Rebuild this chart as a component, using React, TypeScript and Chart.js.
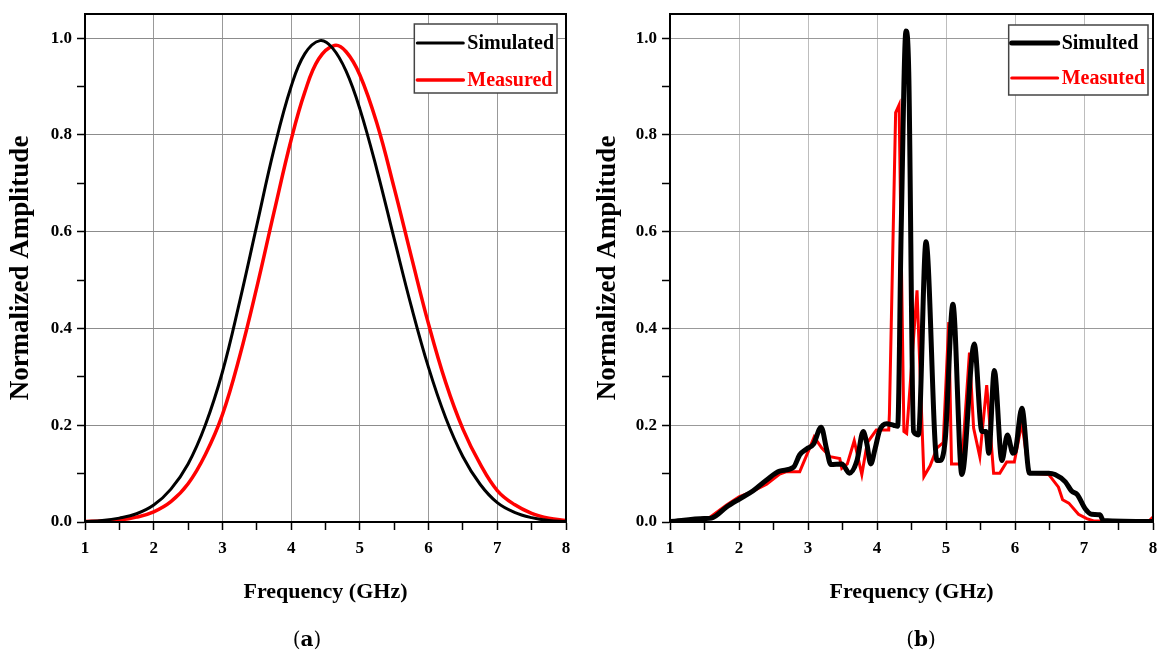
import React, { useEffect, useRef } from 'react';
import { Chart, registerables } from 'chart.js';

Chart.register(...registerables);

const FONT = '"Liberation Serif", "Times New Roman", serif';

// ---------- Panel (a) data ----------
const simAFreq = [1, 1.25, 1.5, 1.75, 2, 2.25, 2.5, 2.75, 3, 3.25, 3.5, 3.75, 4, 4.2, 4.42, 4.6, 4.8, 5, 5.25, 5.5, 5.75, 6, 6.25, 6.5, 6.75, 7, 7.25, 7.5, 7.75, 8];
const simAAmp = [0.001, 0.003, 0.008, 0.017, 0.035, 0.068, 0.12, 0.2, 0.31, 0.455, 0.613, 0.77, 0.9, 0.968, 0.995, 0.98, 0.932, 0.854, 0.727, 0.585, 0.445, 0.319, 0.215, 0.135, 0.078, 0.04, 0.02, 0.009, 0.003, 0.001];
const measAFreq = [1, 1.25, 1.5, 1.75, 2, 2.25, 2.5, 2.75, 3, 3.25, 3.5, 3.75, 4, 4.2, 4.4, 4.63, 4.8, 5, 5.25, 5.5, 5.75, 6, 6.25, 6.5, 6.75, 7, 7.25, 7.5, 7.75, 8];
const measAAmp = [0.001, 0.002, 0.004, 0.01, 0.021, 0.042, 0.079, 0.139, 0.222, 0.342, 0.485, 0.64, 0.79, 0.889, 0.957, 0.985, 0.972, 0.924, 0.823, 0.69, 0.548, 0.409, 0.288, 0.192, 0.12, 0.065, 0.036, 0.018, 0.008, 0.003];

// ---------- Panel (b) data ----------
const simBFreq = [1.0, 1.5, 1.6, 1.82, 2.0, 2.2, 2.4, 2.59, 2.79, 2.88, 2.98, 3.08, 3.19, 3.27, 3.33, 3.49, 3.6, 3.71, 3.8, 3.85, 3.91, 3.97, 4.04, 4.14, 4.24, 4.3, 4.35, 4.42, 4.46, 4.53, 4.6, 4.71, 4.87, 4.91, 4.99, 5.1, 5.23, 5.41, 5.52, 5.58, 5.62, 5.7, 5.81, 5.89, 5.97, 6.0, 6.1, 6.21, 6.49, 6.58, 6.73, 6.82, 6.9, 7.02, 7.11, 7.23, 7.28, 8.0];
const simBAmp = [0.001, 0.007, 0.008, 0.031, 0.047, 0.064, 0.087, 0.105, 0.113, 0.139, 0.151, 0.161, 0.196, 0.15, 0.119, 0.12, 0.101, 0.127, 0.187, 0.164, 0.12, 0.15, 0.19, 0.203, 0.2, 0.198, 0.6, 1.015, 0.93, 0.187, 0.18, 0.579, 0.127, 0.127, 0.172, 0.45, 0.098, 0.368, 0.187, 0.187, 0.142, 0.313, 0.127, 0.18, 0.142, 0.145, 0.235, 0.101, 0.101, 0.098, 0.083, 0.064, 0.057, 0.027, 0.016, 0.015, 0.003, 0.001];
const measBFreq = [1.0, 1.34, 1.58, 1.82, 2.0, 2.18, 2.4, 2.59, 2.69, 2.88, 3.01, 3.09, 3.2, 3.32, 3.46, 3.49, 3.57, 3.67, 3.78, 3.86, 3.99, 4.17, 4.18, 4.27, 4.32, 4.39, 4.43, 4.58, 4.68, 4.77, 4.87, 4.96, 5.04, 5.08, 5.23, 5.34, 5.4, 5.49, 5.59, 5.69, 5.78, 5.88, 5.99, 6.1, 6.2, 6.49, 6.63, 6.69, 6.78, 6.92, 7.04, 7.14, 7.94, 8.0];
const measBAmp = [0.0, 0.005, 0.01, 0.035, 0.052, 0.062, 0.078, 0.099, 0.104, 0.104, 0.148, 0.176, 0.153, 0.135, 0.131, 0.111, 0.12, 0.168, 0.098, 0.164, 0.19, 0.19, 0.224, 0.846, 0.862, 0.187, 0.183, 0.479, 0.094, 0.116, 0.153, 0.164, 0.413, 0.12, 0.12, 0.35, 0.194, 0.135, 0.283, 0.101, 0.101, 0.124, 0.124, 0.205, 0.101, 0.098, 0.072, 0.046, 0.039, 0.016, 0.007, 0.002, 0.002, 0.01];

// ---------- Axes / labels ----------
const xMajorTicks = [1, 2, 3, 4, 5, 6, 7, 8];
const xTickLabels = ['1', '2', '3', '4', '5', '6', '7', '8'];
const xMinorTicks = [1.5, 2.5, 3.5, 4.5, 5.5, 6.5, 7.5];
const yMajorTicks = [0, 0.2, 0.4, 0.6, 0.8, 1.0];
const yTickLabels = ['0.0', '0.2', '0.4', '0.6', '0.8', '1.0'];
const yMinorTicks = [0.1, 0.3, 0.5, 0.7, 0.9];
const seriesNamesA = ['Simulated', 'Measured'];
const seriesNamesB = ['Simulted', 'Measuted'];
const xTitle = 'Frequency (GHz)';
const yTitle = 'Normalized Amplitude';
const panelLabels = ['a', 'b'];

const findIdx = (arr: number[], v: number) => arr.findIndex((m) => Math.abs(m - v) < 1e-6);

const frameLegendPlugin = {
  id: 'frameLegend',
  afterDraw(chart: any, _args: any, opts: any) {
    const { ctx, chartArea: ca } = chart;
    ctx.save();
    ctx.strokeStyle = '#000';
    ctx.lineWidth = 2;
    ctx.strokeRect(ca.left, ca.top, ca.right - ca.left, ca.bottom - ca.top);

    ctx.font = `bold 20px ${FONT}`;
    const ds = chart.data.datasets;
    const tw = Math.max(...ds.map((d: any) => ctx.measureText(d.label).width));
    const lineLen = opts.lineLen;
    const pad = 3;
    const gap = 4;
    const w = pad + lineLen + gap + tw + pad;
    const h = opts.boxHeight;
    const x0 = ca.right - opts.rightGap - w;
    const y0 = ca.top + opts.topGap;
    ctx.fillStyle = '#fff';
    ctx.fillRect(x0, y0, w, h);
    ctx.strokeStyle = '#444';
    ctx.lineWidth = 1.5;
    ctx.strokeRect(x0, y0, w, h);
    ds.forEach((d: any, i: number) => {
      const cy = y0 + opts.rowY[i];
      ctx.strokeStyle = d.borderColor;
      ctx.lineWidth = d.borderWidth;
      ctx.lineCap = 'round';
      ctx.beginPath();
      ctx.moveTo(x0 + pad, cy);
      ctx.lineTo(x0 + pad + lineLen, cy);
      ctx.stroke();
      ctx.fillStyle = d.borderColor;
      ctx.textBaseline = 'middle';
      ctx.textAlign = 'left';
      ctx.fillText(d.label, x0 + pad + lineLen + gap, cy + 1);
    });
    ctx.restore();
  },
};

function makeConfig(p: {
  datasets: any[];
  yWidth: number;
  rightPad: number;
  yTitlePad: number;
  gridH: string;
  gridV: string;
  legend: any;
}) {
  const tickFont = { family: FONT, size: 17, weight: 'bold' as const };
  return {
    type: 'line' as const,
    data: { datasets: p.datasets },
    plugins: [frameLegendPlugin],
    options: {
      animation: false as const,
      responsive: false,
      maintainAspectRatio: false,
      layout: { padding: { left: 0, top: 14, right: p.rightPad, bottom: 0 } },
      elements: { point: { radius: 0 } },
      plugins: {
        legend: { display: false },
        tooltip: { enabled: false },
        frameLegend: p.legend,
      },
      scales: {
        x: {
          type: 'linear' as const,
          min: 1,
          max: 8,
          afterBuildTicks: (s: any) => {
            s.ticks = [...xMajorTicks, ...xMinorTicks].sort((a, b) => a - b).map((v) => ({ value: v }));
          },
          afterFit: (s: any) => {
            s.height = 128;
            s.paddingLeft = 0;
            s.paddingRight = 0;
          },
          grid: {
            color: (c: any) => (c.tick && findIdx(xMajorTicks, c.tick.value) >= 0 ? p.gridV : 'rgba(0,0,0,0)'),
            tickColor: '#000',
            tickLength: 8,
            tickWidth: 1.5,
            lineWidth: 1,
          },
          border: { color: '#000', width: 2 },
          ticks: {
            autoSkip: false,
            maxRotation: 0,
            padding: 8,
            color: '#000',
            font: tickFont,
            callback: (v: any) => {
              const i = findIdx(xMajorTicks, Number(v));
              return i >= 0 ? xTickLabels[i] : '';
            },
          },
          title: {
            display: true,
            text: xTitle,
            color: '#000',
            font: { family: FONT, size: 22, weight: 'bold' as const },
            padding: { top: 0, bottom: 44 },
          },
        },
        y: {
          type: 'linear' as const,
          min: 0,
          max: 1.05,
          afterBuildTicks: (s: any) => {
            s.ticks = [...yMajorTicks, ...yMinorTicks].sort((a, b) => a - b).map((v) => ({ value: v }));
          },
          afterFit: (s: any) => {
            s.width = p.yWidth;
            s.paddingTop = 0;
            s.paddingBottom = 0;
          },
          grid: {
            color: (c: any) => (c.tick && findIdx(yMajorTicks, c.tick.value) >= 0 ? p.gridH : 'rgba(0,0,0,0)'),
            tickColor: '#000',
            tickLength: 8,
            tickWidth: 1.5,
            lineWidth: 1,
          },
          border: { color: '#000', width: 2 },
          ticks: {
            padding: 5,
            color: '#000',
            font: tickFont,
            callback: (v: any) => {
              const i = findIdx(yMajorTicks, Number(v));
              return i >= 0 ? yTickLabels[i] : '';
            },
          },
          title: {
            display: true,
            text: yTitle,
            color: '#000',
            font: { family: FONT, size: 27, weight: 'bold' as const },
            padding: { top: p.yTitlePad, bottom: 0 },
          },
        },
      },
    },
  };
}

const toPts = (xs: number[], ys: number[]) => xs.map((x, i) => ({ x, y: ys[i] }));

function ChartCanvas({ width, height, config }: { width: number; height: number; config: any }) {
  const ref = useRef<HTMLCanvasElement | null>(null);
  useEffect(() => {
    if (!ref.current) return;
    const chart = new Chart(ref.current, config);
    return () => chart.destroy();
  }, []);
  return <canvas ref={ref} width={width} height={height} style={{ display: 'block', width, height }} />;
}

export default function App() {
  const configA = makeConfig({
    datasets: [
      {
        label: seriesNamesA[0],
        data: toPts(simAFreq, simAAmp),
        borderColor: '#000000',
        borderWidth: 3,
        tension: 0.4,
        pointRadius: 0,
      },
      {
        label: seriesNamesA[1],
        data: toPts(measAFreq, measAAmp),
        borderColor: '#ff0000',
        borderWidth: 3.5,
        tension: 0.4,
        pointRadius: 0,
      },
    ],
    yWidth: 85,
    rightPad: 14,
    yTitlePad: 5,
    gridH: '#8c8c8c',
    gridV: '#999999',
    legend: { lineLen: 46, boxHeight: 69, rightGap: 9, topGap: 10, rowY: [19, 56] },
  });
  const configB = makeConfig({
    datasets: [
      {
        label: seriesNamesB[0],
        data: toPts(simBFreq, simBAmp),
        borderColor: '#000000',
        borderWidth: 5,
        cubicInterpolationMode: 'monotone',
        pointRadius: 0,
        borderJoinStyle: 'round',
      },
      {
        label: seriesNamesB[1],
        data: toPts(measBFreq, measBAmp),
        borderColor: '#ff0000',
        borderWidth: 3,
        tension: 0,
        pointRadius: 0,
      },
    ],
    yWidth: 90,
    rightPad: 4,
    yTitlePad: 12,
    gridH: '#999999',
    gridV: '#bdbdbd',
    legend: { lineLen: 46, boxHeight: 70, rightGap: 5, topGap: 11, rowY: [18, 53] },
  });

  const labelStyle = (cx: number): React.CSSProperties => ({
    position: 'absolute',
    left: cx - 40,
    width: 80,
    top: 626,
    textAlign: 'center',
    fontFamily: '"DejaVu Serif", serif',
    fontSize: 20,
    lineHeight: '26px',
    color: '#000',
  });

  return (
    <div style={{ position: 'absolute', left: 0, top: 0, width: 1157, height: 650, background: '#fff', overflow: 'hidden' }}>
      <div style={{ position: 'absolute', left: 0, top: 0 }}>
        <ChartCanvas width={580} height={650} config={configA} />
      </div>
      <div style={{ position: 'absolute', left: 580, top: 0 }}>
        <ChartCanvas width={577} height={650} config={configB} />
      </div>
      <div style={labelStyle(307)}>
        (<b>{panelLabels[0]}</b>)
      </div>
      <div style={labelStyle(921)}>
        (<b>{panelLabels[1]}</b>)
      </div>
    </div>
  );
}
